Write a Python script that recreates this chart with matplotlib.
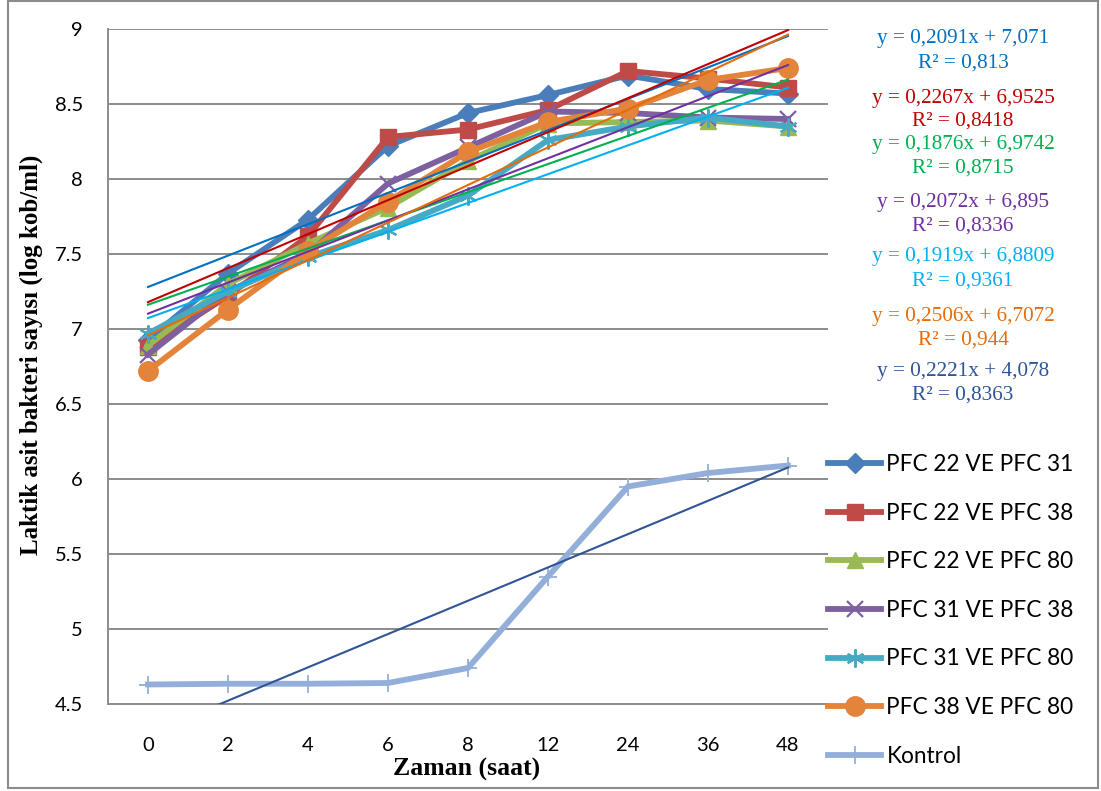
import matplotlib
matplotlib.use("Agg")
import matplotlib.pyplot as plt
from matplotlib.patches import Rectangle

# ---- data -------------------------------------------------------------
times = ["0", "2", "4", "6", "8", "12", "24", "36", "48"]

series_names = ["PFC 22 VE PFC 31", "PFC 22 VE PFC 38", "PFC 22 VE PFC 80",
                "PFC 31 VE PFC 38", "PFC 31 VE PFC 80", "PFC 38 VE PFC 80",
                "Kontrol"]

pfc22_31 = [6.93, 7.37, 7.73, 8.22, 8.44, 8.56, 8.69, 8.60, 8.57]
pfc22_38 = [6.88, 7.22, 7.62, 8.28, 8.33, 8.46, 8.72, 8.67, 8.61]
pfc22_80 = [6.89, 7.30, 7.57, 7.81, 8.12, 8.37, 8.38, 8.39, 8.35]
pfc31_38 = [6.83, 7.25, 7.50, 7.97, 8.21, 8.45, 8.44, 8.41, 8.40]
pfc31_80 = [6.97, 7.25, 7.48, 7.66, 7.89, 8.26, 8.35, 8.41, 8.35]
pfc38_80 = [6.72, 7.13, 7.52, 7.85, 8.18, 8.38, 8.47, 8.66, 8.74]
kontrol = [4.63, 4.635, 4.635, 4.64, 4.74, 5.35, 5.95, 6.04, 6.09]

# linear trend lines, y = slope * n + intercept with n = 1..9
trend_slopes = [0.2091, 0.2267, 0.1876, 0.2072, 0.1919, 0.2506, 0.2221]
trend_intercepts = [7.071, 6.9525, 6.9742, 6.895, 6.8809, 6.7072, 4.078]
trend_r2 = [0.813, 0.8418, 0.8715, 0.8336, 0.9361, 0.944, 0.8363]

# ---- styles -----------------------------------------------------------
all_values = [pfc22_31, pfc22_38, pfc22_80, pfc31_38, pfc31_80, pfc38_80, kontrol]
line_colors = ["#4A7EBB", "#BE4B48", "#98B954", "#7D60A0", "#46AAC5", "#E3843A", "#93AFD9"]
trend_colors = ["#0070C0", "#C00000", "#00B050", "#7030A0", "#00B0F0", "#E46C0A", "#2F5597"]
markers = ["D", "s", "^", "x", (6, 2, 0), "o", "+"]
marker_sizes = [10, 11, 12, 12, 13, 14, 13]
marker_ew = [1, 1, 1, 1.6, 1.6, 1, 1.3]

W, H, DPI = 1101, 791, 100
fig = plt.figure(figsize=(W / DPI, H / DPI), dpi=DPI)


def fx(px):
    return px / W


def fy(py):
    return 1 - py / H


ax = fig.add_axes([fx(108), fy(704), 720 / W, 675 / H])

x = list(range(len(times)))

for vals, name, col, mk, ms, mew in zip(all_values, series_names, line_colors,
                                         markers, marker_sizes, marker_ew):
    ax.plot(x, vals, color=col, lw=4.2, marker=mk, markersize=ms,
            markerfacecolor=col, markeredgecolor=col, markeredgewidth=mew,
            label=name, solid_joinstyle="round", zorder=3)

for a, b, col in zip(trend_slopes, trend_intercepts, trend_colors):
    ty = [a * (i + 1) + b for i in x]
    ax.plot(x, ty, color=col, lw=1.5, zorder=4)

ax.set_xlim(-0.5, len(times) - 0.5)
ax.set_ylim(4.5, 9)
ax.set_yticks([4.5, 5, 5.5, 6, 6.5, 7, 7.5, 8, 8.5, 9])
ax.set_yticklabels(["4.5", "5", "5.5", "6", "6.5", "7", "7.5", "8", "8.5", "9"])
ax.set_xticks(x)
ax.set_xticklabels(times)

grid_col = "#8C8C8C"
ax.grid(axis="y", color=grid_col, lw=1.4, zorder=0)
ax.set_axisbelow(True)
for side in ("top", "right"):
    ax.spines[side].set_visible(False)
for side in ("left", "bottom"):
    ax.spines[side].set_color(grid_col)
    ax.spines[side].set_linewidth(1.4)

ax.tick_params(axis="both", length=0)
ax.tick_params(axis="y", pad=18)
ax.tick_params(axis="x", pad=24)
for lab in ax.get_xticklabels() + ax.get_yticklabels():
    lab.set_fontfamily("Lato")
    lab.set_fontsize(14.5)

ax.set_xlabel("Zaman (saat)", family="Liberation Serif", weight="bold", size=18.5)
ax.set_ylabel("Laktik asit bakteri sayısı (log kob/ml)",
              family="Liberation Serif", weight="bold", size=18)
ax.xaxis.set_label_coords((467 - 108) / 720, (704 - 769) / 675)
ax.xaxis.label.set_va("center")
ax.yaxis.set_label_coords((31 - 108) / 720, (704 - 355) / 675)
ax.yaxis.label.set_va("center")

# trend line equations
eq_rows = [(39, 63), (98, 121), (145, 168), (202, 226), (257, 281), (316, 340), (371, 395)]
for a, b, r2, col, (y1, y2) in zip(trend_slopes, trend_intercepts, trend_r2,
                                    trend_colors, eq_rows):
    eq = f"y = {a:g}x + {b:g}".replace(".", ",")
    rr = f"R² = {r2:g}".replace(".", ",")
    fig.text(fx(963), fy(y1), eq, color=col, family="Liberation Serif",
             size=15.3, ha="center", va="center")
    fig.text(fx(963), fy(y2), rr, color=col, family="Liberation Serif",
             size=15.3, ha="center", va="center")

# legend for the data series
handles, labels = ax.get_legend_handles_labels()
fig.legend(handles, labels, loc="upper left",
           bbox_to_anchor=(fx(828), fy(454)),
           frameon=False, borderpad=0, borderaxespad=0,
           handlelength=2.36, handletextpad=0.22, labelspacing=1.22,
           prop=dict(family="Lato", size=16.3))

# outer chart border
fig.patches.append(Rectangle((fx(8), fy(788)), fx(1098) - fx(8), fy(1) - fy(788),
                             transform=fig.transFigure, fill=False,
                             edgecolor="#8C8C8C", lw=1.5))

fig.savefig("out.png", dpi=DPI, facecolor="white")
